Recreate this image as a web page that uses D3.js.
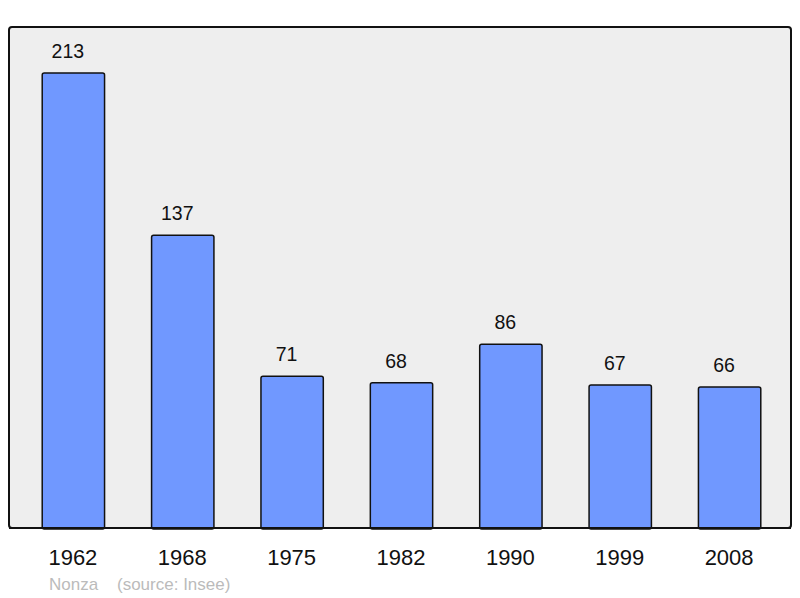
<!DOCTYPE html>
<html>
<head>
<meta charset="utf-8">
<script src="https://cdn.jsdelivr.net/npm/d3@7"></script>
<style>
  body { margin: 0; background: #fff; }
  text { font-family: "Liberation Sans", Arial, sans-serif; }
</style>
</head>
<body>
<div id="container"></div>
<script>
const years = ["1962", "1968", "1975", "1982", "1990", "1999", "2008"];
const population = [213, 137, 71, 68, 86, 67, 66];
const town = "Nonza";
const source = "(source: Insee)";

const width = 800, height = 598;
const panel = { left: 9, top: 27, right: 791, bottom: 528 };

const svg = d3.select("#container").append("svg")
  .attr("width", width)
  .attr("height", height);

svg.append("rect")
  .attr("x", panel.left)
  .attr("y", panel.top)
  .attr("width", panel.right - panel.left)
  .attr("height", panel.bottom - panel.top)
  .attr("rx", 3)
  .attr("fill", "#eeeeee")
  .attr("stroke", "#111")
  .attr("stroke-width", 2);

const x = d3.scaleBand()
  .domain(years)
  .range([panel.left + 1.5, panel.right + 1.5])
  .paddingInner(0.43)
  .paddingOuter(0.29);

const y = d3.scaleLinear()
  .domain([0, 213])
  .range([panel.bottom, 73]);

const bars = svg.append("g");
years.forEach((yr, i) => {
  const v = population[i];
  const cx = x(yr) + x.bandwidth() / 2;
  bars.append("rect")
    .attr("x", x(yr))
    .attr("y", y(v))
    .attr("width", x.bandwidth())
    .attr("height", panel.bottom - y(v) + 1)
    .attr("rx", 2)
    .attr("fill", "#7098ff")
    .attr("stroke", "#111")
    .attr("stroke-width", 1.5);

  // value labels sit a little left of the bar centre
  bars.append("text")
    .attr("x", cx - 5.5)
    .attr("y", y(v) - 15)
    .attr("text-anchor", "middle")
    .attr("font-size", 19.5)
    .attr("fill", "#111")
    .text(v);

  bars.append("text")
    .attr("x", cx - 0.5)
    .attr("y", 565)
    .attr("text-anchor", "middle")
    .attr("font-size", 22)
    .attr("fill", "#111")
    .text(yr);
});

// redraw the panel bottom edge over the bars
svg.append("line")
  .attr("x1", panel.left)
  .attr("x2", panel.right)
  .attr("y1", panel.bottom)
  .attr("y2", panel.bottom)
  .attr("stroke", "#111")
  .attr("stroke-width", 2);

svg.append("text")
  .attr("x", 49)
  .attr("y", 590)
  .attr("font-size", 17)
  .attr("fill", "#bbbbbb")
  .text(town);

svg.append("text")
  .attr("x", 117)
  .attr("y", 590)
  .attr("font-size", 17)
  .attr("fill", "#bbbbbb")
  .text(source);
</script>
</body>
</html>
